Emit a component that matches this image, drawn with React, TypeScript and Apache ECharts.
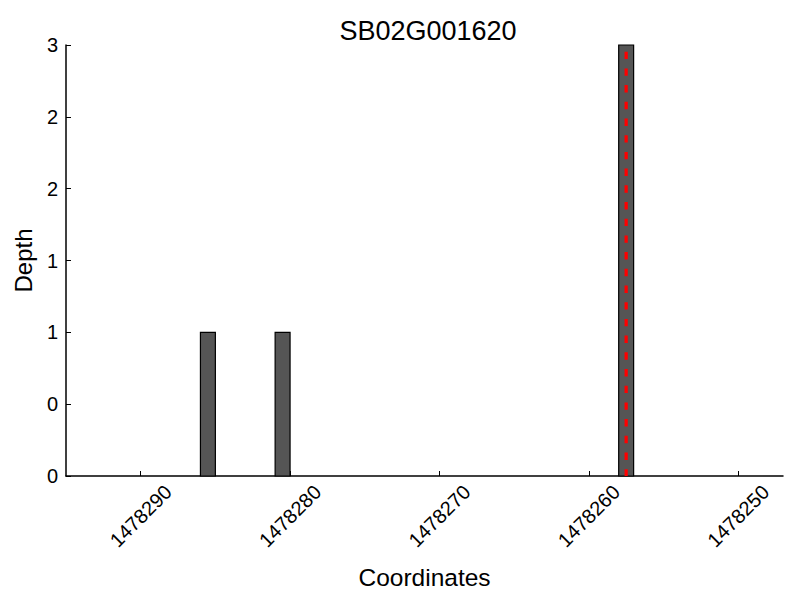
import React, { useEffect, useRef } from "react";
import * as echarts from "echarts";

const title = "SB02G001620";
const xName = "Coordinates";
const yName = "Depth";
// left edge (coordinate) of each 1-bp bar and its depth
const barStarts = [1478285, 1478280, 1478257];
const depths = [1, 1, 3];
const xTicks = [1478250, 1478260, 1478270, 1478280, 1478290];
const xMin = 1478247;
const xMax = 1478295;
const yMax = 3;
const markerPos = [1478257.5];

const FONT = "Liberation Sans";

export default function App() {
  const ref = useRef<HTMLDivElement>(null);
  useEffect(() => {
    const chart = echarts.init(ref.current!, null, { renderer: "svg" });
    const barData = barStarts.map((x, i) => [x, depths[i]]);
    chart.setOption({
      animation: false,
      title: {
        text: title,
        left: 423,
        top: 12,
        textAlign: "center",
        textStyle: { fontFamily: FONT, fontSize: 27, fontWeight: "normal", color: "#000" },
      },
      grid: { left: 66, right: 17, top: 45, bottom: 124 },
      xAxis: {
        type: "value",
        inverse: true,
        min: xMin,
        max: xMax,
        name: xName,
        nameLocation: "middle",
        nameGap: 89,
        nameTextStyle: { fontFamily: FONT, fontSize: 24.5, color: "#000" },
        axisLine: { show: true, onZero: false, lineStyle: { color: "#000", width: 1.5 } },
        axisTick: { show: true, inside: true, length: 5, customValues: xTicks, lineStyle: { color: "#000" } },
        axisLabel: {
          customValues: xTicks,
          rotate: 45,
          align: "center",
          verticalAlign: "middle",
          margin: 40,
          fontFamily: FONT,
          fontSize: 20,
          color: "#000",
          formatter: (v: number) => String(Math.round(v)),
        },
        splitLine: { show: false },
      },
      yAxis: {
        type: "value",
        min: 0,
        max: yMax,
        interval: 0.5,
        name: yName,
        nameLocation: "middle",
        nameGap: 30,
        nameTextStyle: { fontFamily: FONT, fontSize: 24, color: "#000" },
        axisLine: { show: true, lineStyle: { color: "#000", width: 1.5 } },
        axisTick: { show: true, inside: true, length: 5, lineStyle: { color: "#000" } },
        axisLabel: {
          margin: 8,
          fontFamily: FONT,
          fontSize: 20,
          color: "#000",
          formatter: (v: number) => String(Math.floor(v)),
        },
        splitLine: { show: false },
      },
      series: [
        {
          type: "custom",
          encode: { x: 0, y: 1 },
          data: barData,
          renderItem: (params: any, api: any) => {
            const x = api.value(0);
            const y = api.value(1);
            const p1 = api.coord([x + 1, y]);
            const p2 = api.coord([x, 0]);
            return {
              type: "rect",
              shape: {
                x: Math.min(p1[0], p2[0]),
                y: p1[1],
                width: Math.abs(p2[0] - p1[0]),
                height: p2[1] - p1[1],
              },
              style: { fill: "#555555", stroke: "#000", lineWidth: 1.2 },
            };
          },
        },
        {
          type: "custom",
          encode: { x: 0 },
          data: markerPos.map((x) => [x]),
          renderItem: (params: any, api: any) => {
            const x = api.value(0);
            const top = api.coord([x, yMax]);
            const bot = api.coord([x, 0]);
            return {
              type: "line",
              shape: { x1: top[0], y1: top[1], x2: bot[0], y2: bot[1] },
              style: { stroke: "#ff0000", lineWidth: 3.2, lineDash: [7.4, 9.3], lineDashOffset: 10 },
            };
          },
        },
      ],
    });
    return () => chart.dispose();
  }, []);
  return <div ref={ref} style={{ width: 800, height: 600, position: "absolute", left: 0, top: 0 }} />;
}
